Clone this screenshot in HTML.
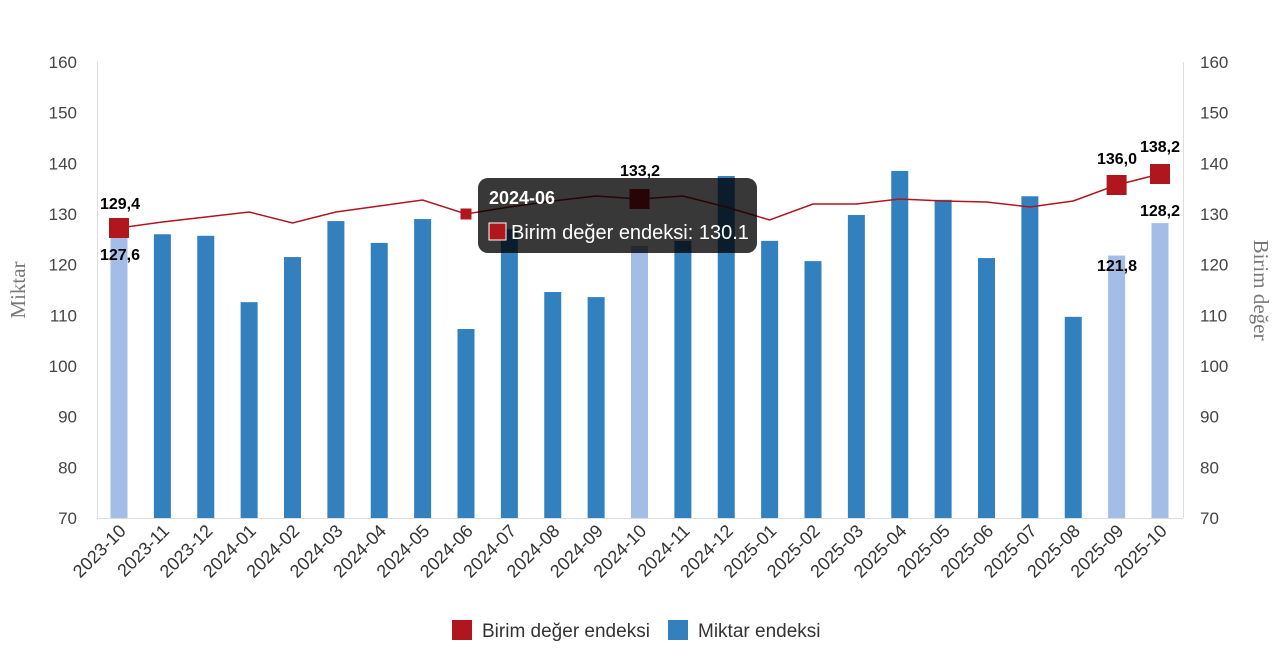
<!DOCTYPE html>
<html><head><meta charset="utf-8"><style>body{margin:0;background:#fff}svg{display:block}</style></head><body>
<svg width="1280" height="658" xmlns="http://www.w3.org/2000/svg" font-family="'Liberation Sans', sans-serif">
<g stroke="#ddd" stroke-width="1"><line x1="97.5" y1="62" x2="97.5" y2="518"/><line x1="1183.5" y1="62" x2="1183.5" y2="518"/><line x1="97" y1="518.5" x2="1183" y2="518.5"/></g>
<g font-size="17" fill="#444" text-anchor="end" id="yl"></g>
<g font-size="17" fill="#444" text-anchor="start" id="yr"></g>
<g id="bars"></g>
<polyline id="ln" fill="none" stroke="#b0161e" stroke-width="1.5"/>
<g id="mk"></g>
<g id="xl" font-size="18" fill="#333"></g>
<g font-size="16" font-weight="bold" fill="#000" text-anchor="middle">
<text x="120" y="209">129,4</text><text x="120" y="260">127,6</text>
<text x="640" y="176">133,2</text>
<text x="1117" y="164">136,0</text><text x="1160" y="152">138,2</text>
<text x="1117" y="271">121,8</text><text x="1160" y="216">128,2</text>
</g>
<text transform="translate(25,290) rotate(-90)" text-anchor="middle" font-family="'Liberation Serif',serif" font-size="21" fill="#777">Miktar</text>
<text transform="translate(1254,290) rotate(90)" text-anchor="middle" font-family="'Liberation Serif',serif" font-size="21" fill="#777">Birim değer</text>
<rect x="452" y="620" width="20" height="20" fill="#b0161e"/><text x="482" y="637" font-size="19" fill="#333">Birim değer endeksi</text>
<rect x="668" y="620" width="20" height="20" fill="#3380bf"/><text x="698" y="637" font-size="19" fill="#333">Miktar endeksi</text>
<rect x="478" y="178" width="279" height="75" rx="10" fill="rgba(0,0,0,0.78)"/>
<text x="489" y="204" font-size="18" font-weight="bold" fill="#fff">2024-06</text>
<rect x="489" y="223" width="17" height="17" fill="#b0161e" stroke="#fff" stroke-width="1"/>
<text x="511" y="239" font-size="20" fill="#fff">Birim değer endeksi: 130.1</text>
<script>
var ns="http://www.w3.org/2000/svg";function el(p,t,a,tx){var e=document.createElementNS(ns,t);for(var k in a)e.setAttribute(k,a[k]);if(tx)e.textContent=tx;document.getElementById(p).appendChild(e);return e;}
function Y(v){return 518-(v-70)*456/90;}
for(var v=70;v<=160;v+=10){el("yl","text",{x:77,y:Y(v)+6},v);el("yr","text",{x:1200,y:Y(v)+6},v);}
var vals=[127.6,126,125.7,112.6,121.5,128.6,124.3,129,107.3,127,114.6,113.6,123.7,124.7,137.5,124.7,120.7,129.8,138.5,132.8,121.3,133.5,109.7,121.8,128.2];
var light=[0,12,23,24];
var ly=[228,222,217,212,223,212,206,200,214,207,201,196,199,196,207,220,204,204,199,201,202,207,201,185,174];
var pts=[];
for(var i=0;i<25;i++){var m=(9+i)%12+1,yr=2023+Math.floor((9+i)/12);var l=yr+"-"+(m<10?"0":"")+m;var cx=119+i*43.375;
el("bars","rect",{x:cx-8.5,y:Y(vals[i]),width:17,height:518-Y(vals[i]),fill:light.indexOf(i)>=0?"#a3bde6":"#3380bf"});
pts.push(cx+","+ly[i]);
el("xl","text",{transform:"translate("+(cx+8)+",532) rotate(-45)","text-anchor":"end"},l);}
document.getElementById("ln").setAttribute("points",pts.join(" "));
[[0,20],[12,20],[23,20],[24,20],[8,11]].forEach(function(a){var cx=119+a[0]*43.375;el("mk","rect",{x:cx-a[1]/2,y:ly[a[0]]-a[1]/2,width:a[1],height:a[1],fill:"#b0161e"});});
</script>
</svg>
</body></html>
